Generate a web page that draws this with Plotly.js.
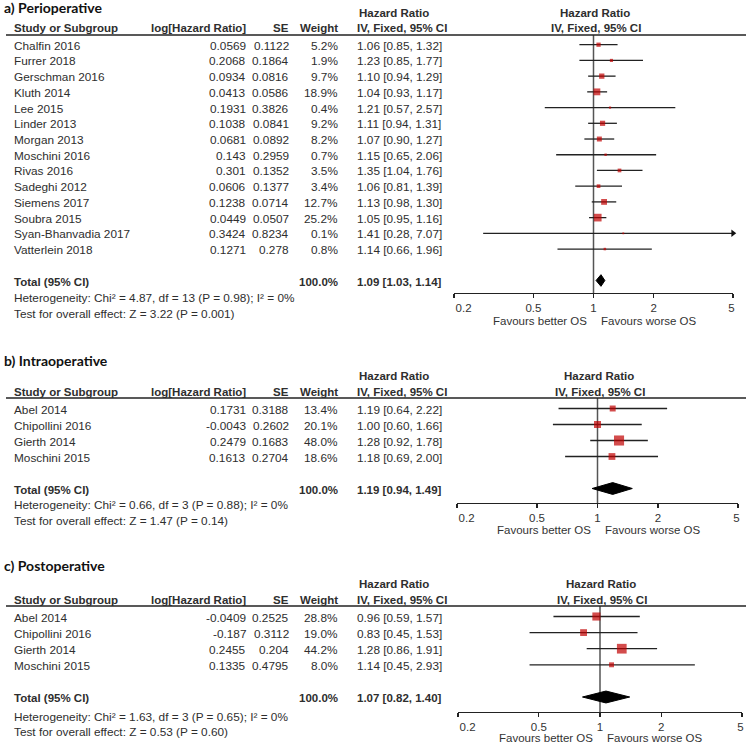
<!DOCTYPE html>
<html><head><meta charset="utf-8">
<script src="https://cdn.plot.ly/plotly-3.0.1.min.js"></script>
<style>html,body{margin:0;padding:0;background:#fff}#chart{width:753px;height:743px}</style>
</head><body><div id="chart"></div>
<script>
// ---------- a) Perioperative ----------
const studiesA = ["Chalfin 2016","Furrer 2018","Gerschman 2016","Kluth 2014","Lee 2015","Linder 2013","Morgan 2013","Moschini 2016","Rivas 2016","Sadeghi 2012","Siemens 2017","Soubra 2015","Syan-Bhanvadia 2017","Vatterlein 2018"];
const logHrA = [0.0569,0.2068,0.0934,0.0413,0.1931,0.1038,0.0681,0.143,0.301,0.0606,0.1238,0.0449,0.3424,0.1271];
const seA = [0.1122,0.1864,0.0816,0.0586,0.3826,0.0841,0.0892,0.2959,0.1352,0.1377,0.0714,0.0507,0.8234,0.278];
const weightA = [5.2,1.9,9.7,18.9,0.4,9.2,8.2,0.7,3.5,3.4,12.7,25.2,0.1,0.8];
const hrA = [1.06,1.23,1.10,1.04,1.21,1.11,1.07,1.15,1.35,1.06,1.13,1.05,1.41,1.14];
const loA = [0.85,0.85,0.94,0.93,0.57,0.94,0.90,0.65,1.04,0.81,0.98,0.95,0.28,0.66];
const hiA = [1.32,1.77,1.29,1.17,2.57,1.31,1.27,2.06,1.76,1.39,1.30,1.16,7.07,1.96];
const totalA = [1.09,1.03,1.14];
const hetA = "Heterogeneity: Chi² = 4.87, df = 13 (P = 0.98); I² = 0%";
const testA = "Test for overall effect: Z = 3.22 (P = 0.001)";

// ---------- b) Intraoperative ----------
const studiesB = ["Abel 2014","Chipollini 2016","Gierth 2014","Moschini 2015"];
const logHrB = [0.1731,-0.0043,0.2479,0.1613];
const seB = [0.3188,0.2602,0.1683,0.2704];
const weightB = [13.4,20.1,48.0,18.6];
const hrB = [1.19,1.00,1.28,1.18];
const loB = [0.64,0.60,0.92,0.69];
const hiB = [2.22,1.66,1.78,2.00];
const totalB = [1.19,0.94,1.49];
const hetB = "Heterogeneity: Chi² = 0.66, df = 3 (P = 0.88); I² = 0%";
const testB = "Test for overall effect: Z = 1.47 (P = 0.14)";

// ---------- c) Postoperative ----------
const studiesC = ["Abel 2014","Chipollini 2016","Gierth 2014","Moschini 2015"];
const logHrC = [-0.0409,-0.187,0.2455,0.1335];
const seC = [0.2525,0.3112,0.204,0.4795];
const weightC = [28.8,19.0,44.2,8.0];
const hrC = [0.96,0.83,1.28,1.14];
const loC = [0.59,0.45,0.86,0.45];
const hiC = [1.57,1.53,1.91,2.93];
const totalC = [1.07,0.82,1.40];
const hetC = "Heterogeneity: Chi² = 1.63, df = 3 (P = 0.65); I² = 0%";
const testC = "Test for overall effect: Z = 0.53 (P = 0.60)";

const panelTitles = ["a) Perioperative","b) Intraoperative","c) Postoperative"];
const tickVals = [0.2,0.5,1,2,5];
const tickText = ["\u00a0\u00a0\u00a0\u00a0\u00a0\u00a00.2","0.5","1","2","5\u00a0"];
const xMin = 0.2, xMax = 5;

// ---------- layout geometry (pixels) ----------
const W=753, H=743;
const geom = [
  {titleY:8, hdr1Y:13, hdr2Y:28, lineY:35, first:44.7, step:15.72, axisY:293, x0:454, x1:733, hetY:298, testY:314, favY:321},
  {titleY:360, hdr1Y:376, hdr2Y:392, lineY:398, first:408.5, step:16, axisY:503, x0:457, x1:738, hetY:505, testY:521, favY:530},
  {titleY:565, hdr1Y:584, hdr2Y:600, lineY:606, first:616.5, step:16.1, axisY:712, x0:458, x1:742, hetY:717, testY:732, favY:737.5}
];
const panels = [
  {studies:studiesA, logHr:logHrA, se:seA, w:weightA, hr:hrA, lo:loA, hi:hiA, tot:totalA, het:hetA, test:testA},
  {studies:studiesB, logHr:logHrB, se:seB, w:weightB, hr:hrB, lo:loB, hi:hiB, tot:totalB, het:hetB, test:testB},
  {studies:studiesC, logHr:logHrC, se:seC, w:weightC, hr:hrC, lo:loC, hi:hiC, tot:totalC, het:hetC, test:testC}
];

const FF = '"Liberation Sans", Arial, sans-serif';
const FS = 11.8;
const TXT = '#2e2e2e';
const px = x => x/W, py = y => 1 - y/H;
const fmt2 = v => v.toFixed(2);
const ci = (h,l,u) => fmt2(h)+' ['+fmt2(l)+', '+fmt2(u)+']';

const data = [], annotations = [], shapes = [];
const layout = {width:W, height:H, margin:{l:0,r:0,t:0,b:0}, paper_bgcolor:'#fff', plot_bgcolor:'rgba(0,0,0,0)',
  showlegend:false, annotations, shapes, hovermode:false};

function txt(text, x, y, xref, yref, anchor, extra) {
  annotations.push(Object.assign({text, x, y, xref, yref, xanchor:anchor, yanchor:'middle', showarrow:false,
    font:{family:FF, size:FS, color:TXT}}, extra||{}));
}

// table column positions (px)
const COL_STUDY = 12, COL_LOG = 248, COL_SE = 291, COL_W = 340, COL_CI = 355;

panels.forEach((d, k) => {
  const g = geom[k];
  const ax = k === 0 ? '' : String(k+1);
  const xa = 'x'+ax, ya = 'y'+ax;
  const rowOf = p => (p - g.first)/g.step;
  const n = d.studies.length;
  const T = n + 1;

  layout['xaxis'+ax] = {type:'log', range:[Math.log10(xMin), Math.log10(xMax)], domain:[px(g.x0), px(g.x1)], anchor:ya,
    showline:true, linecolor:'#222', linewidth:1.3, ticks:'outside', ticklen:4, tickwidth:1.3, tickcolor:'#222',
    tickvals:tickVals, ticktext:tickText, showgrid:false, zeroline:false, fixedrange:true,
    tickfont:{family:FF, size:11.5, color:'#333'}};
  layout['yaxis'+ax] = {domain:[py(g.axisY), py(g.lineY)], range:[rowOf(g.axisY), rowOf(g.lineY)], anchor:xa,
    visible:false, showgrid:false, zeroline:false, fixedrange:true};

  // vertical line of no effect
  data.push({type:'scatter', mode:'lines', x:[1,1], y:[rowOf(g.lineY), rowOf(g.axisY)], xaxis:xa, yaxis:ya,
    line:{color:'#555', width:1.5}, hoverinfo:'skip'});

  // CI lines
  const lx = [], ly = [];
  d.lo.forEach((l, i) => { lx.push(Math.max(l, xMin), Math.min(d.hi[i], xMax), null); ly.push(i, i, null); });
  data.push({type:'scatter', mode:'lines', x:lx, y:ly, xaxis:xa, yaxis:ya, line:{color:'#222', width:1.3}, hoverinfo:'skip'});

  // arrows for truncated CIs
  const ax_ = [], ay_ = [];
  d.hi.forEach((h, i) => { if (h > xMax) { ax_.push(xMax); ay_.push(i); } });
  if (ax_.length) data.push({type:'scatter', mode:'markers', x:ax_, y:ay_, xaxis:xa, yaxis:ya, cliponaxis:false,
    marker:{symbol:'triangle-right', size:6.5, color:'#111'}, hoverinfo:'skip'});

  // point estimates, size by weight
  data.push({type:'scatter', mode:'markers', x:d.hr, y:d.hr.map((_, i) => i), xaxis:xa, yaxis:ya,
    marker:{symbol:'square', color:'#c00000', size:d.w.map(w => 1.4 + 1.25*Math.sqrt(w)), line:{width:0}}, hoverinfo:'skip'});

  // diamond
  const [th, tl, tu] = d.tot;
  data.push({type:'scatter', mode:'lines', x:[tl, th, tu, th, tl], y:[T, T-0.37, T, T+0.37, T], xaxis:xa, yaxis:ya,
    fill:'toself', fillcolor:'#000', line:{color:'#000', width:1}, hoverinfo:'skip'});

  // header line
  shapes.push({type:'line', xref:'paper', yref:'paper', x0:px(6), x1:px(746), y0:py(g.lineY), y1:py(g.lineY),
    line:{color:'#222', width:1.5}});

  // panel title
  txt('<b>'+panelTitles[k]+'</b>', px(2), py(g.titleY), 'paper', 'paper', 'left',
    {font:{family:'Lato, "Open Sans", sans-serif', size:14, color:'#111'}});

  // table headers
  const bold = s => '<b>'+s+'</b>';
  const hf = {font:{family:FF, size:11.5, color:TXT}};
  txt(bold('Hazard Ratio'), px(357), py(g.hdr1Y), 'paper', 'paper', 'left', hf);
  txt(bold('Study or Subgroup'), px(COL_STUDY), py(g.hdr2Y), 'paper', 'paper', 'left', hf);
  txt(bold('log[Hazard Ratio]'), px(COL_LOG), py(g.hdr2Y), 'paper', 'paper', 'right', hf);
  txt(bold('SE'), px(COL_SE), py(g.hdr2Y), 'paper', 'paper', 'right', hf);
  txt(bold('Weight'), px(COL_W), py(g.hdr2Y), 'paper', 'paper', 'right', hf);
  txt(bold('IV, Fixed, 95% CI'), px(COL_CI), py(g.hdr2Y), 'paper', 'paper', 'left', hf);

  // forest headers centred on HR = 1
  txt(bold('Hazard Ratio'), 0, py(g.hdr1Y), xa, 'paper', 'center', Object.assign({xshift:1}, hf));
  txt(bold('IV, Fixed, 95% CI'), 0, py(g.hdr2Y), xa, 'paper', 'center', Object.assign({xshift:2}, hf));

  // study rows
  d.studies.forEach((s, i) => {
    const ex = {yshift:-1};
    txt(s, px(COL_STUDY), i, 'paper', ya, 'left', ex);
    txt(String(d.logHr[i]), px(COL_LOG), i, 'paper', ya, 'right', ex);
    txt(String(d.se[i]), px(COL_SE), i, 'paper', ya, 'right', ex);
    txt(d.w[i].toFixed(1)+'%', px(COL_W), i, 'paper', ya, 'right', ex);
    txt(ci(d.hr[i], d.lo[i], d.hi[i]), px(COL_CI), i, 'paper', ya, 'left', ex);
  });

  // totals
  const tf = {yshift:-1, font:{family:FF, size:11.5, color:TXT}};
  txt(bold('Total (95% CI)'), px(COL_STUDY), T, 'paper', ya, 'left', tf);
  txt(bold('100.0%'), px(COL_W), T, 'paper', ya, 'right', tf);
  txt(bold(ci(th, tl, tu)), px(COL_CI), T, 'paper', ya, 'left', tf);

  txt(d.het, px(COL_STUDY), py(g.hetY), 'paper', 'paper', 'left');
  txt(d.test, px(COL_STUDY), py(g.testY), 'paper', 'paper', 'left');

  // favours labels
  const ff = {family:FF, size:11.5, color:'#333'};
  txt('Favours better OS', 0, py(g.favY), xa, 'paper', 'right', {xshift:-5, font:ff});
  txt('Favours worse OS', 0, py(g.favY), xa, 'paper', 'left', {xshift:5, font:ff});
});

Plotly.newPlot('chart', data, layout, {displayModeBar:false, staticPlot:true});
</script>
</body></html>
